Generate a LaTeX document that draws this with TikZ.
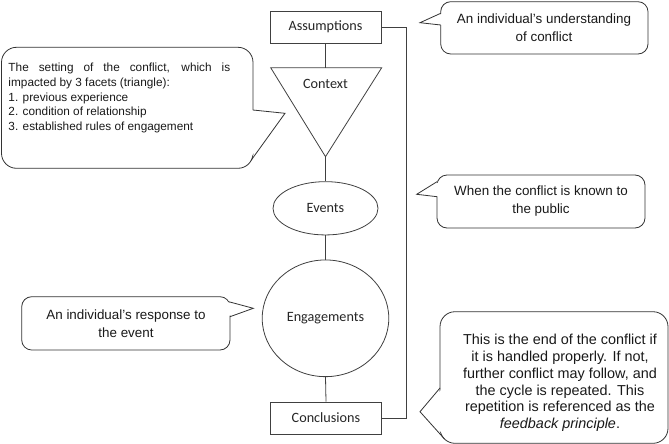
\documentclass[tikz,border=0pt]{standalone}
\usepackage{fontspec}
\setmainfont{Liberation Sans}
\newfontfamily\calfont{Carlito}
\usetikzlibrary{shapes.geometric}
\begin{document}
\begin{tikzpicture}[x=1pt,y=-1pt,
  shapeline/.style={draw=black!75, line width=0.8pt},
  flowbox/.style={shapeline, fill=white, inner sep=0pt, font=\calfont\fontsize{14.2}{17}\selectfont, text=black!85},
  flowtext/.style={inner sep=0pt, font=\calfont\fontsize{14.2}{17}\selectfont, text=black!85},
  conn/.style={draw=black!75, line width=0.8pt},
  cbox/.style={draw=black!80, line width=0.8pt, rounded corners=#1},
  cbox/.default=10pt,
  cline/.style={draw=black!80, line width=0.8pt, line join=miter},
  ctext/.style={inner sep=0pt, align=center, text=black!90, font=\fontsize{13.4}{17.5}\selectfont},
]
\useasboundingbox (0,0) rectangle (669,444);

% ---- flow ----
\node[flowbox, minimum width=111pt, minimum height=32pt] (assump) at (325.5,27) {Assumptions};
\coordinate (tl) at (270.7,67.7);
\coordinate (tr) at (381.7,67.7);
\coordinate (tb) at (325.5,156.7);
\coordinate (ttop) at (325.5,67.7);
\draw[shapeline, line join=miter] (tl) -- (tr) -- (tb) -- cycle;
\node[flowtext] (context) at (325.5,84) {Context};
\node[flowbox, ellipse, minimum width=105pt, minimum height=53.3pt] (events) at (325.5,208.3) {Events};
\node[flowbox, ellipse, minimum width=126.6pt, minimum height=116.7pt] (engage) at (325.5,318.3) {Engagements};
\node[flowbox, minimum width=111pt, minimum height=32pt] (concl) at (326,418) {Conclusions};

\draw[conn] (assump.south) -- (ttop);
\draw[conn] (tb) -- (events.north);
\draw[conn] (events.south) -- (engage.north);
\draw[conn] (engage.south) -- (concl.north);
\draw[conn] (assump.east) -- ++(25,0) coordinate (fbtop) |- (concl.east);

% ---- callout 1 ----
\draw[cbox] (440.7,1.7) rectangle (648,54);
\fill[white] (443,13.3) -- (420,22.7) -- (443,25) -- cycle;
\draw[cline] (440.7,13.3) -- (420,22.7) -- (440.7,25);
\node[ctext] (t1) at (544,27.5) {An individual’s understanding\\of conflict};

% ---- callout 2 ----
\draw[cbox=15pt] (1.5,47.3) rectangle (253,168.3);
\fill[white] (250,110) -- (285,113.3) -- (248,160.5) -- cycle;
\draw[cline] (253,110) -- (285,113.3) -- (251,160.5);
\node[inner sep=0pt, align=left, anchor=west, text=black!90, font=\fontsize{11.8}{14.7}\selectfont] (t2) at (8.3,98)
  {\makebox[221.7pt][s]{The setting of the conflict, which is}\\impacted by 3 facets (triangle):\\1. previous experience\\2. condition of relationship\\3. established rules of engagement};

% ---- callout 3 ----
\draw[cbox] (437,175) rectangle (645,228);
\fill[white] (439.5,181.7) -- (416.7,194.3) -- (439.5,196.7) -- cycle;
\draw[cline] (437,181.7) -- (416.7,194.3) -- (437,196.7);
\node[ctext] (t3) at (541,201) {When the conflict is known to\\the public};

% ---- callout 4 ----
\draw[cbox] (21.7,296.7) rectangle (230,350);
\fill[white] (226,301.7) -- (253.3,308.3) -- (226,316.7) -- cycle;
\draw[cline] (228.7,301.7) -- (253.3,308.3) -- (230,316.7);
\node[ctext] (t4) at (126,323.5) {An individual’s response to\\the event};

% ---- callout 5 ----
\draw[cbox=15pt] (440,311.7) rectangle (668,443.3);
\fill[white] (443,388) -- (420,411.7) -- (446,437) -- cycle;
\draw[cline] (440,388) -- (420,411.7) -- (444.4,438.9);
\node[ctext, font=\fontsize{14.4}{16.7}\selectfont] (t5) at (560,383)
  {This is the end of the conflict if\\it is handled properly. If not,\\further conflict may follow, and\\the cycle is repeated. This\\repetition is referenced as the\\\textit{feedback principle}.};
\end{tikzpicture}
\end{document}
